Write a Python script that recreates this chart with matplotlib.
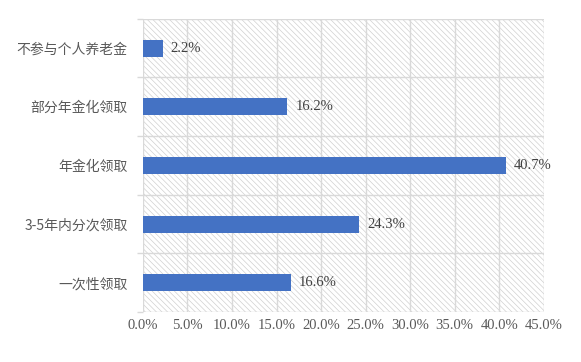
import matplotlib.pyplot as plt
from matplotlib.patches import Rectangle
from matplotlib.ticker import FuncFormatter

# 数据（从下到上）
categories = ['一次性领取', '3-5年内分次领取', '年金化领取', '部分年金化领取', '不参与个人养老金']
values = [16.6, 24.3, 40.7, 16.2, 2.2]
x_ticks = [0, 5, 10, 15, 20, 25, 30, 35, 40, 45]

plt.rcParams['font.family'] = ['Noto Sans CJK SC', 'DejaVu Sans']
plt.rcParams['hatch.linewidth'] = 0.5

fig = plt.figure(figsize=(5.81, 3.62), dpi=100)
ax = fig.add_axes([0.246, 0.138, 0.690, 0.810])

# hatched background
bg = Rectangle((0, 0), 1, 1, transform=ax.transAxes, facecolor='white',
               edgecolor='#d0d0d0', hatch='\\\\\\\\\\\\', linewidth=0, zorder=0)
ax.add_patch(bg)

y = range(len(categories))
ax.barh(y, values, height=0.29, color='#4472c4', zorder=3)

for i, v in enumerate(values):
    ax.text(v + 0.9, i, f'{v:.1f}%', va='center', ha='left',
            fontsize=10.5, family='Liberation Serif', color='#404040', zorder=4)

ax.set_xlim(0, 45)
ax.set_ylim(-0.5, len(categories) - 0.5)
ax.set_xticks(x_ticks)
ax.xaxis.set_major_formatter(FuncFormatter(lambda v, _: f'{v:.1f}%'))
ax.set_yticks(list(y))
ax.set_yticklabels(categories, fontsize=10, color='#595959')
for lab in ax.get_xticklabels():
    lab.set_family('Liberation Serif')
    lab.set_fontsize(10.5)
    lab.set_color('#595959')

ax.set_yticks([i - 0.5 for i in range(len(categories) + 1)], minor=True)
ax.grid(axis='x', which='major', color='#d9d9d9', linewidth=1, zorder=1)
ax.grid(axis='y', which='minor', color='#d9d9d9', linewidth=1, zorder=1)
ax.tick_params(axis='both', which='major', length=0)
ax.tick_params(axis='y', which='minor', length=4, color='#d9d9d9', width=1)
ax.tick_params(axis='y', which='major', pad=11)
ax.tick_params(axis='x', pad=5)

for side in ['top', 'right', 'left', 'bottom']:
    ax.spines[side].set_visible(False)
ax.set_axisbelow(True)

plt.savefig('out.png', dpi=100)
